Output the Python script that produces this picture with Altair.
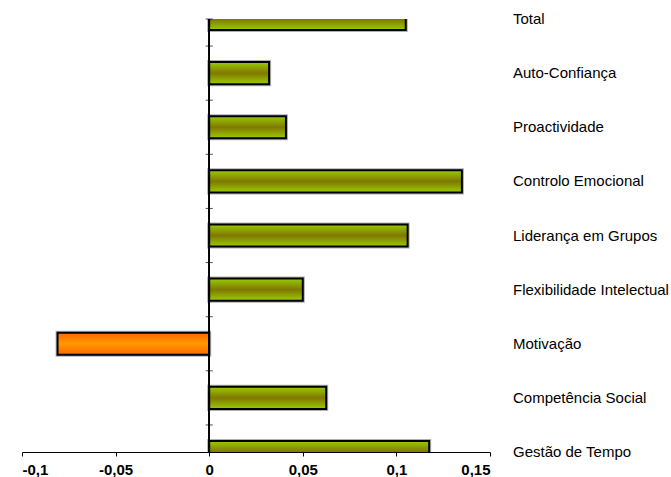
import altair as alt
import pandas as pd

categories = ["Total", "Auto-Confiança", "Proactividade", "Controlo Emocional",
              "Liderança em Grupos", "Flexibilidade Intelectual", "Motivação",
              "Competência Social", "Gestão de Tempo"]
values = [0.105, 0.032, 0.041, 0.135, 0.106, 0.050, -0.081, 0.0625, 0.1175]
x_ticks = [-0.1, -0.05, 0, 0.05, 0.1, 0.15]

df = pd.DataFrame({"cat": categories, "val": values, "pos": list(range(len(categories)))})
tick_df = pd.DataFrame({"pos": [0] + [i + 0.5 for i in range(len(categories) - 1)], "x": 0})

FONT = "Liberation Sans"
yscale = alt.Scale(domain=[0, len(categories) - 1], reverse=True, nice=False, zero=False)
xscale = alt.Scale(domain=[-0.1, 0.15], nice=False)

green = alt.LinearGradient(gradient="linear", x1=0, y1=0, x2=0, y2=1, stops=[
    alt.GradientStop(color="#9ACD00", offset=0),
    alt.GradientStop(color="#807800", offset=0.5),
    alt.GradientStop(color="#9ACD00", offset=1)])
orange = alt.LinearGradient(gradient="linear", x1=0, y1=0, x2=0, y2=1, stops=[
    alt.GradientStop(color="#FF6600", offset=0),
    alt.GradientStop(color="#FF9900", offset=0.5),
    alt.GradientStop(color="#FF6600", offset=1)])

base = alt.Chart(df).transform_calculate(
    y0="datum.pos - 0.205", y1="datum.pos + 0.205", zero="0")

xaxis = alt.Axis(values=x_ticks, labelExpr="replace(toString(datum.value), '.', ',')",
                 grid=False, domainColor="black", tickColor="black", tickSize=4,
                 labelFont=FONT, labelFontSize=15, labelFontWeight="bold",
                 labelColor="black", labelPadding=6, title=None)

shadow = base.mark_bar(clip=True, fill=None, stroke="#B0B0B0", strokeWidth=4).encode(
    x=alt.X("zero:Q", scale=xscale, axis=xaxis), x2="val:Q",
    y=alt.Y("y0:Q", scale=yscale, axis=None), y2="y1:Q")

pos_bars = base.transform_filter("datum.val >= 0").mark_bar(
    clip=True, color=green, stroke="black", strokeWidth=2).encode(
    x=alt.X("zero:Q", scale=xscale), x2="val:Q",
    y=alt.Y("y0:Q", scale=yscale), y2="y1:Q")

neg_bars = base.transform_filter("datum.val < 0").mark_bar(
    clip=True, color=orange, stroke="black", strokeWidth=2).encode(
    x=alt.X("zero:Q", scale=xscale), x2="val:Q",
    y=alt.Y("y0:Q", scale=yscale), y2="y1:Q")

zero_line = alt.Chart(df).mark_rule(color="black", strokeWidth=1).encode(
    x=alt.datum(0, scale=xscale))

ticks = alt.Chart(tick_df).mark_tick(orient="horizontal", size=7, thickness=1,
                                     color="black").encode(
    x=alt.X("x:Q", scale=xscale), y=alt.Y("pos:Q", scale=yscale))

labels = alt.Chart(df).mark_text(align="left", baseline="middle", font=FONT,
                                 fontSize=15, color="black").encode(
    x=alt.value(491), y=alt.Y("pos:Q", scale=yscale), text="cat:N")

chart = alt.layer(shadow, pos_bars, neg_bars, zero_line, ticks, labels).properties(
    width=468, height=433,
    autosize=alt.AutoSizeParams(type="none"),
    padding={"left": 22, "top": 19, "right": 181, "bottom": 25},
    background="white",
).configure_view(stroke=None)

chart.save("out.html", embed_options={"renderer": "svg", "actions": False})
